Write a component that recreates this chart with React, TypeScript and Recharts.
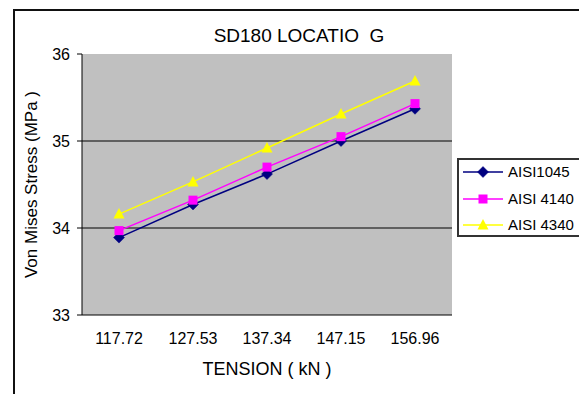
import React from 'react';
import { LineChart, Line, XAxis, YAxis, CartesianGrid, Legend } from 'recharts';

const categories = ['117.72', '127.53', '137.34', '147.15', '156.96'];
const aisi1045 = [33.89, 34.27, 34.62, 35.0, 35.37];
const aisi4140 = [33.97, 34.32, 34.7, 35.05, 35.43];
const aisi4340 = [34.16, 34.53, 34.92, 35.31, 35.69];
const yTicks = [33, 34, 35, 36];
const gridValues = [34, 35];
const boundaryTicks = [0, 1, 2, 3, 4, 5];

const chartTitle = 'SD180 LOCATIO  G';
const xTitle = 'TENSION ( kN )';
const yTitle = 'Von Mises Stress (MPa )';

const series = [
  { key: 'aisi1045', name: 'AISI1045', color: '#000080', shape: 'diamond' },
  { key: 'aisi4140', name: 'AISI 4140', color: '#FF00FF', shape: 'square' },
  { key: 'aisi4340', name: 'AISI 4340', color: '#FFFF00', shape: 'triangle' },
];

const data = categories.map((c, i) => ({
  tension: c,
  aisi1045: aisi1045[i],
  aisi4140: aisi4140[i],
  aisi4340: aisi4340[i],
}));

const FONT = '"Liberation Sans", Arial, sans-serif';

function Marker({ shape, cx, cy, color }: any) {
  if (shape === 'diamond') {
    return (
      <path
        d={`M${cx},${cy - 5.5}L${cx + 5.5},${cy}L${cx},${cy + 5.5}L${cx - 5.5},${cy}Z`}
        fill={color}
        stroke={color}
        strokeWidth={0.5}
      />
    );
  }
  if (shape === 'square') {
    return <rect x={cx - 4.5} y={cy - 4.5} width={9} height={9} fill={color} />;
  }
  return <path d={`M${cx},${cy - 6}L${cx + 5.5},${cy + 4.5}L${cx - 5.5},${cy + 4.5}Z`} fill={color} />;
}

const makeDot = (shape: string, color: string) => (props: any) => {
  const { cx, cy, index } = props;
  if (cx == null || cy == null) return <g key={`${shape}-e-${index}`} />;
  return (
    <g key={`${shape}-${index}`}>
      <Marker shape={shape} cx={cx} cy={cy} color={color} />
    </g>
  );
};

const renderLegend = (props: any) => {
  const payload = props.payload || [];
  const keys = payload.map((p: any) => p.dataKey);
  const items = series.filter((s) => keys.length === 0 || keys.includes(s.key));
  return (
    <div
      style={{
        position: 'relative',
        width: 140,
        height: 79,
        border: '2px solid #333',
        boxSizing: 'border-box',
        background: '#fff',
        fontFamily: FONT,
        fontSize: 15,
        color: '#000',
      }}
    >
      {items.map((s, i) => {
        const center = 12 + 26.5 * i;
        return (
          <div key={s.key} style={{ position: 'absolute', left: 0, top: center - 10, height: 20, width: 140 }}>
            <svg width={44} height={20} style={{ position: 'absolute', left: 4, top: 0 }}>
              <line x1={0} y1={10} x2={40} y2={10} stroke={s.color} strokeWidth={1.5} />
              <Marker shape={s.shape} cx={20} cy={10} color={s.color} />
            </svg>
            <span style={{ position: 'absolute', left: 49, top: 0, lineHeight: '20px', whiteSpace: 'pre' }}>
              {s.name}
            </span>
          </div>
        );
      })}
    </div>
  );
};

export default function App() {
  return (
    <div
      style={{
        position: 'absolute',
        left: 0,
        top: 0,
        width: 579,
        height: 394,
        overflow: 'hidden',
        background: '#fff',
        fontFamily: FONT,
      }}
    >
      <div
        style={{
          position: 'absolute',
          left: 13,
          top: 9,
          width: 700,
          height: 500,
          border: '2px solid #111',
          boxSizing: 'border-box',
        }}
      />
      <svg width={579} height={394} style={{ position: 'absolute', left: 0, top: 0, pointerEvents: 'none' }}>
        <text x={299} y={41.7} textAnchor="middle" fontFamily={FONT} fontSize={19} fill="#000" style={{ whiteSpace: 'pre' }}>
          {chartTitle}
        </text>
      </svg>
      <div style={{ position: 'absolute', left: 0, top: 0 }}>
        <LineChart width={579} height={394} data={data} margin={{ top: 54, right: 127, bottom: 0, left: 0 }}>
          <CartesianGrid fill="#C0C0C0" fillOpacity={1} stroke="#000" vertical={false} horizontalValues={gridValues} />
          <XAxis
            xAxisId="bounds"
            type="number"
            domain={[0, 5]}
            ticks={boundaryTicks}
            height={0}
            tickSize={5}
            tickFormatter={() => ''}
            axisLine={false}
            tickLine={{ stroke: '#000' }}
            allowDataOverflow
          />
          <XAxis
            dataKey="tension"
            height={79}
            interval={0}
            padding={{ left: 37, right: 37 }}
            tickSize={5}
            tickMargin={13}
            tickLine={false}
            axisLine={{ stroke: '#000' }}
            tick={{ fill: '#000', fontSize: 16, fontFamily: FONT }}
            label={{ value: xTitle, position: 'insideBottom', offset: 19, fill: '#000', fontSize: 18, fontFamily: FONT }}
          />
          <XAxis
            xAxisId="top"
            orientation="top"
            dataKey="tension"
            height={0}
            padding={{ left: 37, right: 37 }}
            tick={false}
            tickLine={false}
            axisLine={{ stroke: '#808080' }}
          />
          <YAxis
            width={82}
            domain={[33, 36]}
            ticks={yTicks}
            interval={0}
            tickSize={5}
            tickMargin={7}
            axisLine={{ stroke: '#000' }}
            tickLine={{ stroke: '#000' }}
            tick={{ fill: '#000', fontSize: 16, fontFamily: FONT }}
            label={{ value: yTitle, angle: -90, position: 'center', dx: -10, fill: '#000', fontSize: 17, fontFamily: FONT }}
          />
          <YAxis yAxisId="right" orientation="right" width={0} domain={[33, 36]} tick={false} tickLine={false} axisLine={{ stroke: '#808080' }} />
          <Legend
            layout="vertical"
            align="center"
            verticalAlign="middle"
            content={renderLegend}
            wrapperStyle={{ left: 457, top: 158, width: 140, height: 79 }}
          />
          {series.map((s) => (
            <Line
              key={s.key}
              type="linear"
              dataKey={s.key}
              name={s.name}
              stroke={s.color}
              strokeWidth={1.5}
              dot={makeDot(s.shape, s.color)}
              activeDot={false}
              isAnimationActive={false}
            />
          ))}
        </LineChart>
      </div>
    </div>
  );
}
